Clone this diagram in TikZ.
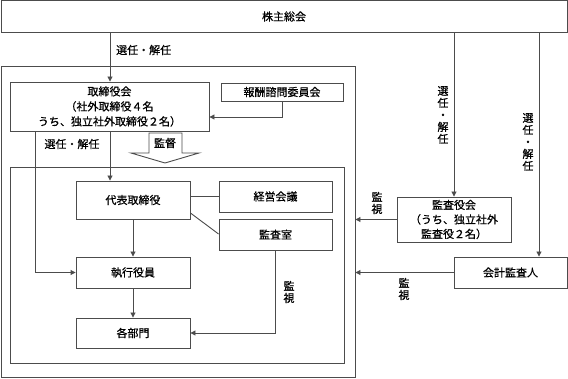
\documentclass[tikz,border=0pt]{standalone}
\usepackage{fontspec}
\setmainfont{Noto Sans CJK JP}[FakeBold=0.6]
\usetikzlibrary{arrows.meta}
\begin{document}
\begin{tikzpicture}[x=1pt,y=-1pt,
  every node/.style={font=\fontsize{11}{13}\selectfont, text=black},
  box/.style={draw=black!70,line width=0.9pt,fill=white,inner sep=0pt,align=center},
  ln/.style={draw=black!70,line width=0.9pt},
  arr/.style={ln,-{Triangle[length=5pt,width=5pt]}},
  lbl/.style={inner sep=0pt,align=center},
  vlbl/.style={inner sep=0pt,align=center,font=\fontsize{11}{12}\selectfont}]
\useasboundingbox (0,0) rectangle (568,379);
% containers
\node[box,minimum width=354pt,minimum height=311pt,fill=none] (outer) at (178,221.5) {};
\node[box,minimum width=334pt,minimum height=196pt,fill=none] (inner) at (177,265) {};
% nodes
\node[box,minimum width=566pt,minimum height=32pt] (kabu) at (284,16.5) {株主総会};
\node[box,minimum width=199pt,minimum height=49pt,font=\fontsize{11}{15}\selectfont] (tori) at (109.5,106.5) {取締役会\\（社外取締役４名\\うち、独立社外取締役２名）};
\node[box,minimum width=122pt,minimum height=18pt] (hoshu) at (282,92) {報酬諮問委員会};
\node[box,minimum width=114pt,minimum height=38pt] (daihyo) at (133,200) {代表取締役};
\node[box,minimum width=113pt,minimum height=31pt] (keiei) at (275.5,196.5) {経営会議};
\node[box,minimum width=113pt,minimum height=31pt] (kansashitsu) at (275.5,234.5) {監査室};
\node[box,minimum width=114pt,minimum height=31pt] (shikko) at (133,272.5) {執行役員};
\node[box,minimum width=114pt,minimum height=30pt] (kakubu) at (133,333) {各部門};
\node[box,minimum width=114pt,minimum height=45pt,font=\fontsize{11}{14.5}\selectfont] (kansayaku) at (454,219.5) {監査役会\\（うち、独立社外\\監査役２名）};
\node[box,minimum width=113pt,minimum height=31pt] (kaikei) at (510.5,272.5) {会計監査人};
% hollow arrow
\draw[ln,fill=white] (149,133) -- (182,133) -- (182,153) -- (199,153) -- (165,163) -- (131,153) -- (149,153) -- cycle;
\node[lbl] (kantoku) at (165,143) {監督};
% connectors
\draw[arr] (kabu.south -| 110,0) -- (tori.north -| 110,0);
\node[lbl,anchor=west] (l1) at (116,50) {選任・解任};
\draw[arr] (hoshu.south) |- (tori.east |- 0,117);
\draw[arr] (tori.south -| 110,0) -- (daihyo.north -| 110,0);
\node[lbl] (l2) at (72,144) {選任・解任};
\coordinate (lc) at (35,272.5);
\draw[arr] (tori.south -| lc) -- (lc) -- (shikko.west);
\draw[ln] (keiei.west) -- (daihyo.east |- keiei.west);
\draw[ln] (daihyo.east |- 0,213) -- (kansashitsu.west |- 0,234);
\draw[arr] (daihyo.south) -- (shikko.north);
\draw[arr] (shikko.south) -- (kakubu.north);
\draw[arr] (kansashitsu.south) |- (kakubu.east);
\node[vlbl] (l3) at (289,292) {監\\視};
% right side
\draw[arr] (kabu.south -| kansayaku.north) -- (kansayaku.north);
\node[vlbl] (l4) at (443,115) {選\\任\\・\\解\\任};
\draw[arr] (kabu.south -| 539,0) -- (kaikei.north -| 539,0);
\node[vlbl] (l5) at (528,142) {選\\任\\・\\解\\任};
\draw[arr] (kansayaku.west) -- (outer.east |- kansayaku.west);
\node[vlbl] (l6) at (377,203) {監\\視};
\draw[arr] (kaikei.west) -- (outer.east |- kaikei.west);
\node[vlbl] (l7) at (404,289) {監\\視};
\end{tikzpicture}
\end{document}
